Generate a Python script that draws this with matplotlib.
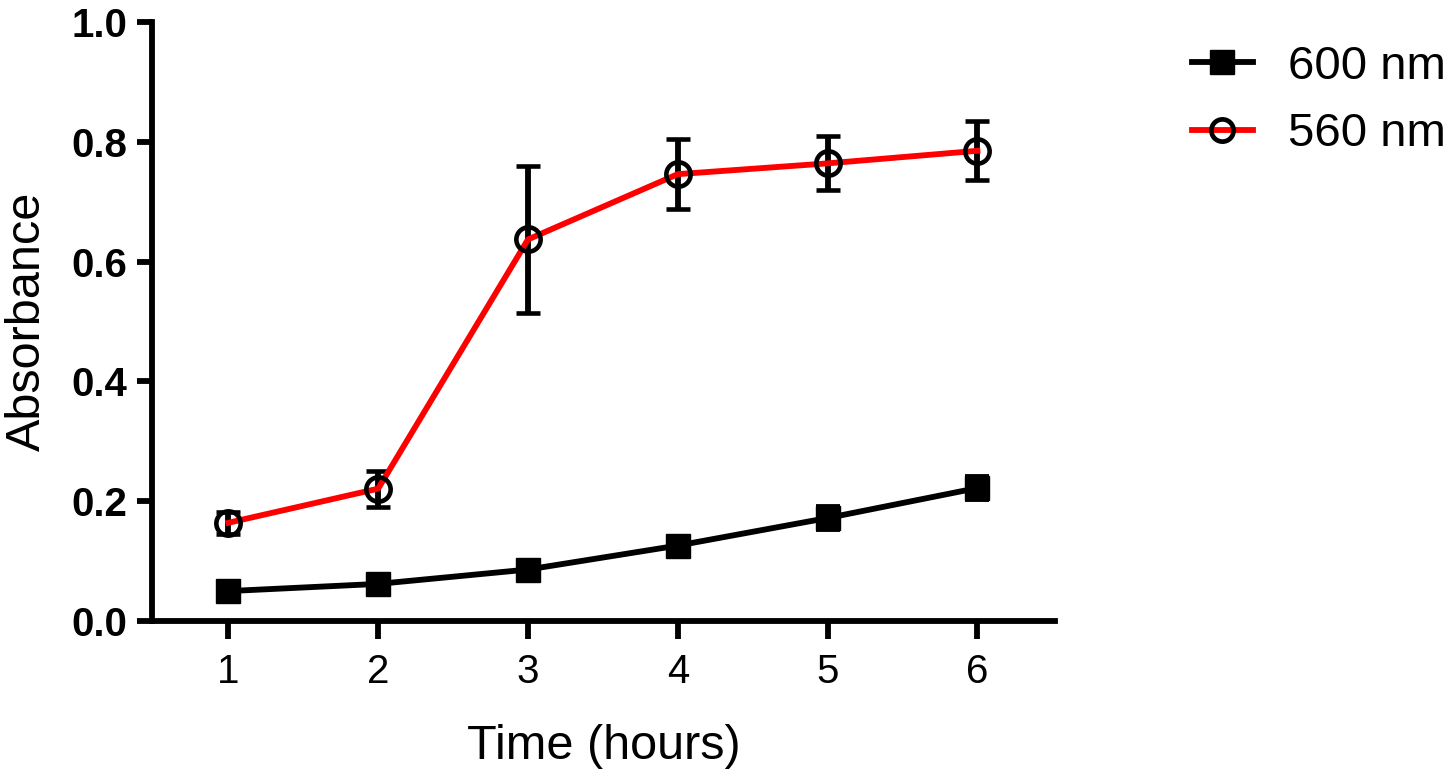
import matplotlib
matplotlib.use("Agg")
import matplotlib.pyplot as plt
from matplotlib.lines import Line2D

plt.rcParams['font.family'] = ['Liberation Sans', 'DejaVu Sans']

hours = [1, 2, 3, 4, 5, 6]
abs_600 = [0.050, 0.062, 0.086, 0.126, 0.172, 0.222]
err_600 = [0.008, 0.008, 0.008, 0.010, 0.018, 0.018]
abs_560 = [0.164, 0.221, 0.637, 0.746, 0.764, 0.785]
err_560 = [0.018, 0.030, 0.123, 0.059, 0.045, 0.049]
labels = ["600 nm", "560 nm"]

fig = plt.figure(figsize=(14.5, 7.8), dpi=100)
ax = fig.add_axes([0.1048, 0.2038, 0.623, 0.768])

ax.errorbar(hours, abs_600, yerr=err_600, color="black", lw=4.2,
            marker="s", ms=17, mfc="black", mec="black",
            ecolor="black", elinewidth=4.2, capsize=8.5, capthick=4.2,
            zorder=3)
ax.errorbar(hours, abs_560, yerr=err_560, color="#ff0000", lw=4.2,
            marker="o", ms=17.5, mfc="none", mec="black", mew=3.3,
            ecolor="black", elinewidth=4.2, capsize=8.5, capthick=4.2,
            zorder=4)

ax.set_xlim(0.49, 6.52)
ax.set_ylim(0, 1.0)
ax.set_xticks(hours)
ax.set_yticks([0.0, 0.2, 0.4, 0.6, 0.8, 1.0])
ax.set_yticklabels(["0.0", "0.2", "0.4", "0.6", "0.8", "1.0"], fontweight="bold")
ax.tick_params(axis="y", labelsize=29, width=4.2, length=11, pad=7)
ax.tick_params(axis="x", labelsize=29, width=4.2, length=13, pad=10)
for s in ["top", "right"]:
    ax.spines[s].set_visible(False)
for s in ["left", "bottom"]:
    ax.spines[s].set_linewidth(4.2)
ax.spines["left"].set_bounds(0, 1.0)

ax.set_xlabel("Time (hours)", fontsize=35, labelpad=24)
ax.set_ylabel("Absorbance", fontsize=35, labelpad=15)

handles = [
    Line2D([], [], color="black", lw=4.2, marker="s", ms=17,
           mfc="black", mec="black"),
    Line2D([], [], color="#ff0000", lw=4.2, marker="o", ms=16,
           mfc="none", mec="black", mew=3.4),
]
fig.legend(handles, labels, loc="upper left", bbox_to_anchor=(0.799, 0.985),
           frameon=False, fontsize=34, handlelength=1.3, handletextpad=0.75,
           labelspacing=0.5, borderpad=0.2)

fig.savefig("out.png", dpi=100)
